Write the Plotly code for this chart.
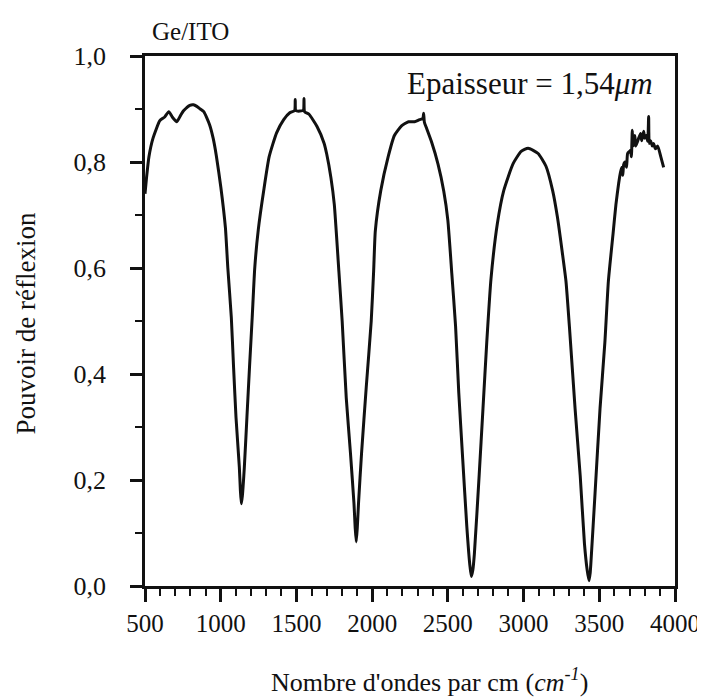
import plotly.graph_objects as go

# Wavenumber (cm^-1) and reflectance
wavenumber = [
    500, 510, 526, 553, 598, 630, 657, 680, 710, 735, 756, 796, 820, 842, 865, 888,
    927, 950, 971, 1001, 1031, 1047, 1070, 1085, 1101, 1123, 1130, 1136, 1143, 1156,
    1173, 1190, 1208, 1225, 1248, 1285, 1320, 1369, 1416, 1456, 1488, 1492, 1496, 1523,
    1546, 1550, 1554, 1583, 1636, 1682, 1700, 1728, 1750, 1780, 1802, 1829, 1857, 1880,
    1888, 1895, 1902, 1910, 1930, 1961, 1994, 2010, 2021, 2057, 2106, 2147, 2194, 2240,
    2280, 2313, 2335, 2340, 2345, 2359, 2391, 2435, 2473, 2500, 2526, 2551, 2572, 2598,
    2625, 2645, 2655, 2665, 2675, 2707, 2732, 2757, 2785, 2827, 2869, 2931, 2984, 3030,
    3096, 3148, 3192, 3223, 3254, 3280, 3305, 3340, 3374, 3402, 3420, 3432, 3440, 3446,
    3472, 3505, 3537, 3560, 3591, 3610, 3628, 3641, 3650, 3655, 3661, 3670, 3680, 3687,
    3700, 3707, 3712, 3718, 3722, 3727, 3735, 3740, 3753, 3760, 3773, 3780, 3793, 3800,
    3810, 3820, 3826, 3830, 3839, 3850, 3859, 3870, 3886, 3906, 3925,
]
reflectance = [
    0.74, 0.77, 0.81, 0.845, 0.878, 0.885, 0.895, 0.885, 0.876, 0.888, 0.897, 0.907, 0.908, 0.905, 0.90, 0.895,
    0.87, 0.845, 0.812, 0.752, 0.676, 0.60, 0.507, 0.412, 0.318, 0.224, 0.18, 0.155, 0.17, 0.224,
    0.318, 0.412, 0.507, 0.601, 0.672, 0.748, 0.81, 0.855, 0.88, 0.893, 0.897, 0.918, 0.897, 0.896,
    0.898, 0.92, 0.895, 0.89, 0.867, 0.836, 0.815, 0.77, 0.72, 0.595, 0.50, 0.355, 0.25, 0.156,
    0.11, 0.083, 0.11, 0.156, 0.25, 0.375, 0.50, 0.595, 0.67, 0.746, 0.81, 0.85, 0.868, 0.876,
    0.876, 0.88, 0.882, 0.892, 0.875, 0.864, 0.839, 0.796, 0.745, 0.69, 0.59, 0.49, 0.365, 0.24,
    0.113, 0.04, 0.018, 0.03, 0.06, 0.21, 0.335, 0.46, 0.58, 0.684, 0.746, 0.797, 0.82, 0.826,
    0.816, 0.792, 0.746, 0.697, 0.633, 0.575, 0.48, 0.335, 0.208, 0.08, 0.03, 0.01, 0.025, 0.05,
    0.175, 0.335, 0.46, 0.575, 0.665, 0.72, 0.76, 0.782, 0.79, 0.775, 0.795, 0.80, 0.79, 0.816,
    0.82, 0.822, 0.81, 0.86, 0.83, 0.835, 0.85, 0.83, 0.839, 0.845, 0.854, 0.84, 0.858, 0.845,
    0.85, 0.839, 0.886, 0.835, 0.84, 0.83, 0.835, 0.825, 0.83, 0.81, 0.79,
]

x_tickvals = [500, 1000, 1500, 2000, 2500, 3000, 3500, 4000]
x_ticktext = ["500", "1000", "1500", "2000", "2500", "3000", "3500", "4000"]
y_tickvals = [0.0, 0.2, 0.4, 0.6, 0.8, 1.0]
y_ticktext = ["0,0", "0,2", "0,4", "0,6", "0,8", "1,0"]

FONT = "Liberation Serif, Times New Roman, serif"
INK = "#111111"

fig = go.Figure()
fig.add_trace(go.Scatter(
    x=wavenumber, y=reflectance, mode="lines",
    line=dict(color=INK, width=3, shape="spline", smoothing=0.5),
    showlegend=False, hoverinfo="skip",
))

fig.update_layout(
    width=705, height=697,
    margin=dict(l=137, r=38, t=48, b=119),
    paper_bgcolor="white", plot_bgcolor="white",
    font=dict(family=FONT, color=INK, size=25),
    showlegend=False,
)

fig.update_xaxes(
    range=[500, 4000], tickvals=x_tickvals, ticktext=x_ticktext,
    showgrid=False, zeroline=False,
    showline=True, linecolor=INK, linewidth=2.5, mirror=True,
    ticks="outside", ticklen=13, tickwidth=2.5, tickcolor=INK,
    ticklabelstandoff=0,
    tickfont=dict(family=FONT, size=25, color=INK),
    minor=dict(dtick=100, ticks="outside", ticklen=7, tickwidth=2, tickcolor=INK),
)
fig.update_yaxes(
    range=[0, 1], tickvals=y_tickvals, ticktext=y_ticktext,
    showgrid=False, zeroline=False,
    showline=True, linecolor=INK, linewidth=2.5, mirror=True,
    ticks="outside", ticklen=12, tickwidth=2.5, tickcolor=INK,
    ticklabelstandoff=19,
    tickfont=dict(family=FONT, size=26, color=INK),
    minor=dict(dtick=0.1, ticks="outside", ticklen=7, tickwidth=2, tickcolor=INK),
)

fig.add_annotation(
    text="Ge/ITO", xref="paper", yref="paper", x=0.009, y=1.047,
    xanchor="left", yanchor="middle", showarrow=False,
    font=dict(family=FONT, size=25, color=INK),
)
fig.add_annotation(
    text="Epaisseur = 1,54<i>μm</i>", xref="paper", yref="paper", x=0.962, y=0.949,
    xanchor="right", yanchor="middle", showarrow=False,
    font=dict(family=FONT, size=31, color=INK),
)
fig.add_annotation(
    text="Nombre d'ondes par cm (<i>cm</i><sup>-<i>1</i></sup>)", xref="paper", yref="paper",
    x=0.537, y=-0.179, xanchor="center", yanchor="middle", showarrow=False,
    font=dict(family=FONT, size=26, color=INK),
)
fig.add_annotation(
    text="Pouvoir de réflexion", xref="paper", yref="paper", x=-0.224, y=0.496,
    xanchor="center", yanchor="middle", textangle=-90, showarrow=False,
    font=dict(family=FONT, size=27, color=INK),
)

fig.write_html("out.html")
